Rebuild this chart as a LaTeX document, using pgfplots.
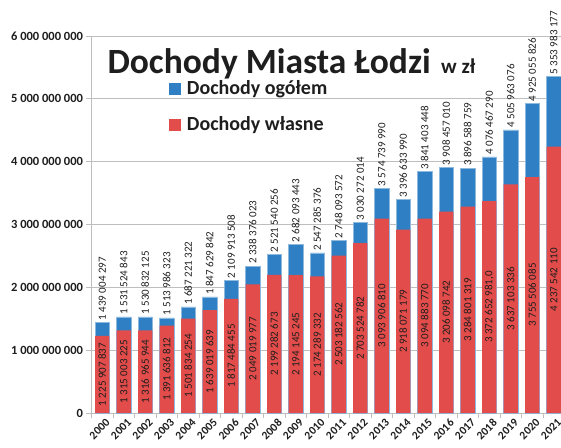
\documentclass[border=0pt]{standalone}
\usepackage{fontspec}
\setmainfont{Carlito}
\usepackage{pgfplots}
\usepackage{pgfplotstable}
\pgfplotsset{compat=1.18}
\definecolor{cblue}{RGB}{47,127,196}
\definecolor{cred}{RGB}{226,76,74}
\definecolor{cgrid}{RGB}{190,190,190}
\definecolor{ctext}{RGB}{30,30,30}

\pgfplotstableread[col sep=semicolon]{
x;total;own;tl;ol
0;1439004297;1225907837;1 439 004 297;1 225 907 837
1;1531524843;1315003225;1 531 524 843;1 315 003 225
2;1530832125;1316965944;1 530 832 125;1 316 965 944
3;1513986323;1391636812;1 513 986 323;1 391 636 812
4;1687221322;1501834254;1 687 221 322;1 501 834 254
5;1847629842;1639019639;1 847 629 842;1 639 019 639
6;2109913508;1817484455;2 109 913 508;1 817 484 455
7;2338376023;2049019977;2 338 376 023;2 049 019 977
8;2521540256;2199282673;2 521 540 256;2 199 282 673
9;2682093443;2194145245;2 682 093 443;2 194 145 245
10;2547285376;2174289332;2 547 285 376;2 174 289 332
11;2748093572;2503182562;2 748 093 572;2 503 182 562
12;3030272014;2703524782;3 030 272 014;2 703 524 782
13;3574739990;3093906810;3 574 739 990;3 093 906 810
14;3396633990;2918071179;3 396 633 990;2 918 071 179
15;3841403448;3094883770;3 841 403 448;3 094 883 770
16;3908457010;3206098742;3 908 457 010;3 206 098 742
17;3896588759;3284801319;3 896 588 759;3 284 801 319
18;4076467290;3372652981;4 076 467 290;3 372 652 981,0
19;4505963076;3637103336;4 505 963 076;3 637 103 336
20;4925055826;3755506085;4 925 055 826;3 755 506 085
21;5353983177;4237542110;5 353 983 177;4 237 542 110
}\data

\begin{document}
\begin{tikzpicture}[x=1pt,y=1pt]
\useasboundingbox (-91.5,-34) rectangle (469.5,413);
\clip (-91.5,-34) rectangle (469.5,413);
\begin{axis}[
  scale only axis, width=473pt, height=377pt,
  xmin=-0.5, xmax=21.5, ymin=0, ymax=6e9,
  ybar, bar width=14.3pt, bar shift=0pt,
  axis x line=bottom, axis y line=left,
  axis line style={-, draw=cgrid, line width=0.8pt},
  scaled y ticks=false,
  ytick={0,1e9,2e9,3e9,4e9,5e9,6e9},
  yticklabels={0,1 000 000 000,2 000 000 000,3 000 000 000,4 000 000 000,5 000 000 000,6 000 000 000},
  yticklabel style={font=\bfseries\fontsize{12.5}{14}\selectfont, text=ctext},
  ymajorgrids, grid style={draw=cgrid, line width=0.8pt},
  xtick={-0.5,0.5,...,21.5}, xticklabels={},
  extra x ticks={0,1,2,3,4,5,6,7,8,9,10,11,12,13,14,15,16,17,18,19,20,21},
  extra x tick labels={2000,2001,2002,2003,2004,2005,2006,2007,2008,2009,2010,2011,2012,2013,2014,2015,2016,2017,2018,2019,2020,2021},
  extra x tick style={major tick length=0pt, grid=none,
    tick label style={rotate=45, anchor=north east, inner sep=0.5pt, yshift=-5pt, xshift=-1pt,
      font=\bfseries\fontsize{11.5}{13}\selectfont, text=ctext}},
  tick align=outside, major tick length=5pt,
  tick style={draw=cgrid, line width=0.8pt},
  clip=false,
]
\addplot[fill=cblue, draw=cblue!55!white, line width=0.5pt,
  nodes near coords, point meta=explicit symbolic,
  nodes near coords style={rotate=90, anchor=west, inner sep=2pt, text=ctext,
    font=\fontsize{11}{12}\selectfont}]
  table[x=x, y=total, meta=tl]{\data};
\addplot[fill=cred, draw=none]
  table[x=x, y=own]{\data};
\addplot[fill=none, draw=none, forget plot,
  nodes near coords, point meta=explicit symbolic,
  nodes near coords style={rotate=90, anchor=center, inner sep=0pt, text=ctext,
    font=\fontsize{11}{12}\selectfont}]
  table[x=x, y expr=\thisrow{own}/2, meta=ol]{\data};
\end{axis}
\node[anchor=base west, inner sep=0pt, text=ctext, font=\bfseries\fontsize{35.5}{40}\selectfont] at (15.8,339.7) {Dochody Miasta Łodzi};
\node[anchor=base west, inner sep=0pt, text=ctext, font=\bfseries\fontsize{21}{24}\selectfont] at (349.5,339.7) {w zł};
\fill[cblue] (77.8,318) rectangle (89.2,330.3);
\node[anchor=base west, inner sep=0pt, text=ctext, font=\bfseries\fontsize{20}{24}\selectfont] at (95.2,318) {Dochody ogółem};
\fill[cred] (77.8,282) rectangle (89.2,293.7);
\node[anchor=base west, inner sep=0pt, text=ctext, font=\bfseries\fontsize{20}{24}\selectfont] at (95.2,282) {Dochody własne};
\end{tikzpicture}
\end{document}
